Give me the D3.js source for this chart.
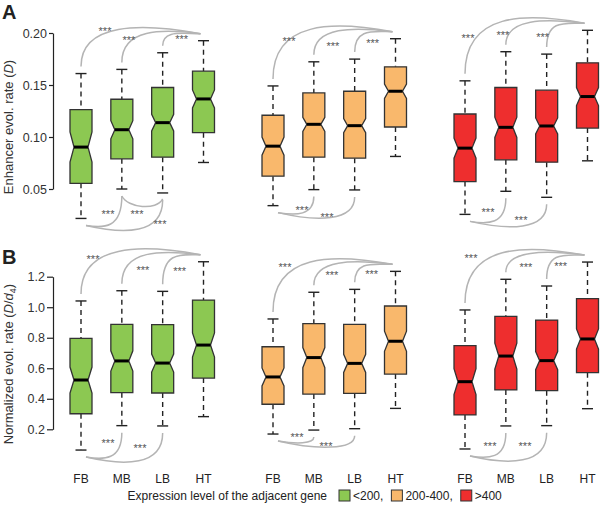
<!DOCTYPE html>
<html><head><meta charset="utf-8">
<script src="https://cdn.jsdelivr.net/npm/d3@7"></script>
<style>
body{margin:0;background:#fff;}
text{font-family:"Liberation Sans",Arial,sans-serif;}
</style></head>
<body><svg id="c" width="600" height="514"></svg>
<script>
// ---------- DATA ----------
const categories = ["FB","MB","LB","HT"];
const groups = ["<200","200-400",">400"];
const legendTitle = "Expression level of the adjacent gene";
const ticksA = [0.05,0.10,0.15,0.20];
const ticksB = [0.2,0.4,0.6,0.8,1.0,1.2];
// five-number summaries per category: [lowWhisker, Q1, median, Q3, highWhisker]
const A_low  = [[0.0217,0.0555,0.0903,0.1264,0.161],[0.050,0.079,0.107,0.1363,0.165],[0.0462,0.0806,0.1138,0.1476,0.181],[0.0755,0.1042,0.1366,0.1633,0.1926]];
const A_mid  = [[0.034,0.0623,0.0912,0.1209,0.1491],[0.0494,0.0806,0.1122,0.1424,0.1723],[0.0491,0.0796,0.1109,0.144,0.1749],[0.0813,0.1096,0.144,0.1675,0.1945]];
const A_high = [[0.0256,0.0571,0.0893,0.1221,0.154],[0.0478,0.0781,0.1093,0.1476,0.182],[0.042,0.0758,0.1106,0.145,0.1797],[0.0771,0.1086,0.1389,0.1713,0.2026]];
const B_low  = [[0.064,0.302,0.523,0.796,1.041],[0.224,0.440,0.648,0.888,1.108],[0.222,0.438,0.634,0.886,1.104],[0.283,0.536,0.752,1.047,1.298]];
const B_mid  = [[0.169,0.364,0.543,0.741,0.923],[0.195,0.431,0.670,0.892,1.098],[0.204,0.436,0.632,0.888,1.117],[0.337,0.562,0.777,1.008,1.235]];
const B_high = [[0.071,0.294,0.512,0.748,0.982],[0.222,0.458,0.680,0.940,1.183],[0.224,0.453,0.650,0.916,1.139],[0.335,0.571,0.792,1.056,1.296]];
// notch half-widths (confidence interval of the median)
const A_low_ci  = [0.0145,0.0087,0.008,0.0087];
const A_mid_ci  = [0.0087,0.0068,0.0068,0.0068];
const A_high_ci = [0.0097,0.0097,0.0077,0.0087];
const B_low_ci  = [0.085,0.066,0.059,0.079];
const B_mid_ci  = [0.059,0.066,0.059,0.066];
const B_high_ci = [0.085,0.085,0.059,0.066];
// significance comparisons
const topPairs = [["FB","HT"],["MB","HT"],["LB","HT"]];
const bottomPairsA0 = [["MB","FB"],["MB","LB"],["LB","FB"]];
const bottomPairs = [["MB","FB"],["LB","FB"]];
const sigLabel = "***";

// ---------- STYLE / LAYOUT ----------
const fills = ["#8cc852","#f9b86c","#ee2e2e"];
// label nudges for the significance marks (layout only): [panel][group][pair] -> [dx,dy]
const topLabelNudge = [
  [[[24,-3],[7,6],[19,5]], [[16,9],[19,14],[18,11]], [[3,15],[-3,12],[-4,14]]],
  [[[12,4],[21,15],[17,16]], [[12,3],[18,11],[17,10]], [[6,3],[20,12],[14,11]]]
];
const bottomLabelNudge = [
  [[[27,-11],[56,-11],[79,-1]], [[29,-3],[54,4]], [[23,-9],[56,-1]]],
  [[[27,-14],[59,-9]], [[24,-4],[53,5]], [[25,-10],[60,-10]]]
];

const svg = d3.select("#c");
const gx = d3.scalePoint().domain(groups).range([81,465]);
const cx = d3.scalePoint().domain(categories).range([0,122.5]);
const X = (g,c)=> gx(g)+cx(c);

const panels = [
  {letter:"A", data:[A_low,A_mid,A_high], ci:[A_low_ci,A_mid_ci,A_high_ci],
   y:d3.scaleLinear().domain([0.05,0.20]).range([189,33]), ticks:ticksA, fmt:d3.format(".2f"), tickLen:4,
   letterY:19, labelY:127},
  {letter:"B", data:[B_low,B_mid,B_high], ci:[B_low_ci,B_mid_ci,B_high_ci],
   y:d3.scaleLinear().domain([0.2,1.2]).range([429.3,276.7]), ticks:ticksB, fmt:d3.format(".1f"), tickLen:6,
   letterY:264, labelY:364}
];

const bw = 22, inset = 4, capW = 11;

panels.forEach((P,pi)=>{
  const g = svg.append("g");
  const ax = d3.axisLeft(P.y).tickValues(P.ticks).tickFormat(P.fmt).tickSize(P.tickLen).tickSizeOuter(0).tickPadding(2);
  const axg = g.append("g").attr("transform","translate(53,0)").call(ax);
  axg.select(".domain").attr("stroke","#222").attr("stroke-width",1.2);
  axg.selectAll(".tick line").attr("stroke","#222").attr("stroke-width",1.2);
  axg.selectAll(".tick text").attr("font-size",12.5).attr("fill","#333").style("font-family","Liberation Sans, Arial, sans-serif");
  g.append("text").attr("x",2).attr("y",P.letterY).attr("font-size",20).attr("font-weight","bold").attr("fill","#222").text(P.letter);
  const yl = g.append("text").attr("transform",`translate(13,${P.labelY}) rotate(-90)`).attr("text-anchor","middle")
     .attr("font-size",13).attr("fill","#333");
  if(P.letter==="A"){
    yl.append("tspan").text("Enhancer evol. rate (");
    yl.append("tspan").attr("font-style","italic").text("D");
    yl.append("tspan").text(")");
  } else {
    yl.append("tspan").text("Normalized evol. rate (");
    yl.append("tspan").attr("font-style","italic").text("D");
    yl.append("tspan").text("/");
    yl.append("tspan").attr("font-style","italic").text("d");
    yl.append("tspan").attr("font-size",9).attr("dy",3).text("4");
    yl.append("tspan").attr("dy",-3).text(")");
  }

  groups.forEach((grp,gi)=>{
    const arr = P.data[gi], ci = P.ci[gi];
    const arcG = g.append("g");
    categories.forEach((c,k)=>{
      const [lo,q1,md,q3,hi] = arr[k];
      const x = X(grp,c), y = P.y;
      g.append("line").attr("x1",x).attr("x2",x).attr("y1",y(hi)).attr("y2",y(q3))
        .attr("stroke","#222").attr("stroke-width",1.4).attr("stroke-dasharray","5,4");
      g.append("line").attr("x1",x).attr("x2",x).attr("y1",y(q1)).attr("y2",y(lo))
        .attr("stroke","#222").attr("stroke-width",1.4).attr("stroke-dasharray","5,4");
      [lo,hi].forEach(v=>g.append("line").attr("x1",x-capW/2).attr("x2",x+capW/2).attr("y1",y(v)).attr("y2",y(v))
        .attr("stroke","#222").attr("stroke-width",1.4));
      const l=x-bw/2, r=x+bw/2, nl=y(md-ci[k]), nh=y(md+ci[k]), m=y(md);
      const pts = [[l,y(q1)],[l,nl],[l+inset,m],[l,nh],[l,y(q3)],[r,y(q3)],[r,nh],[r-inset,m],[r,nl],[r,y(q1)]];
      g.append("path").attr("d",d3.line()(pts)+"Z").attr("fill",fills[gi]).attr("stroke","#333").attr("stroke-width",1.3);
      g.append("line").attr("x1",l+inset).attr("x2",r-inset).attr("y1",m).attr("y2",m).attr("stroke","#000").attr("stroke-width",3);
    });
    const idx = c=>categories.indexOf(c);
    const drawArc = (p0,p1,p2,p3,lab)=>{
      arcG.append("path").attr("d",`M${p0}C${p1} ${p2} ${p3}`).attr("fill","none").attr("stroke","#b4b4b4").attr("stroke-width",1.5);
      arcG.append("text").attr("x",lab[0]).attr("y",lab[1]+4).attr("text-anchor","middle").attr("font-size",11).attr("fill","#555").text(sigLabel);
    };
    const heights = [11,5,0];
    topPairs.forEach(([a,b],k)=>{
      const x0=X(grp,a), y0=P.y(arr[idx(a)][4])-7;
      const x1=X(grp,b)-3, y1=P.y(arr[idx(b)][4])-7;
      const ye = y1-heights[k];
      const p0=[x0,y0],p1=[x0,ye-(k===2?4:0)],p2=[x0+(x1-x0)*0.5,ye],p3=[x1,y1];
      const n = topLabelNudge[pi][gi][k];
      drawArc(p0,p1,p2,p3,[x0+n[0],y1+n[1]]);
    });
    const bp = (pi===0 && gi===0) ? bottomPairsA0 : bottomPairs;
    const fbx = X(grp,"FB"), fby = P.y(arr[0][0])+7;
    bp.forEach(([a,b],k)=>{
      const n = bottomLabelNudge[pi][gi][k];
      const lab = [fbx+n[0], fby+n[1]];
      const x0=X(grp,a), y0=P.y(arr[idx(a)][0])+7;
      if(a==="MB" && b==="LB"){
        const x1=X(grp,b), y1=P.y(arr[idx(b)][0])+6;
        drawArc([x0,y0],[x0+6,y0+12],[x1-6,y1+12],[x1,y1],lab);
        return;
      }
      const x1=fbx+5, y1=fby;
      const ye = y1 + (a==="MB" ? 3 : 9);
      drawArc([x0,y0],[x0,ye],[x0+(x1-x0)*0.5,ye],[x1,y1],lab);
    });
  });
});

groups.forEach(grp=>categories.forEach(c=>{
  svg.append("text").attr("x",X(grp,c)).attr("y",483).attr("text-anchor","middle").attr("font-size",12).attr("fill","#222").text(c);
}));

const lg = svg.append("g");
lg.append("text").attr("x",327).attr("y",500).attr("text-anchor","end").attr("font-size",12).attr("fill","#222").text(legendTitle);
let lx = 339;
groups.forEach((grp,i)=>{
  lg.append("rect").attr("x",lx).attr("y",490).attr("width",11).attr("height",11).attr("fill",fills[i]).attr("stroke","#333").attr("stroke-width",1);
  const t = lg.append("text").attr("x",lx+14).attr("y",500).attr("font-size",12).attr("fill","#222").text(grp + (i<groups.length-1?",":""));
  lx += 14 + t.node().getComputedTextLength() + 8;
});
</script></body></html>
